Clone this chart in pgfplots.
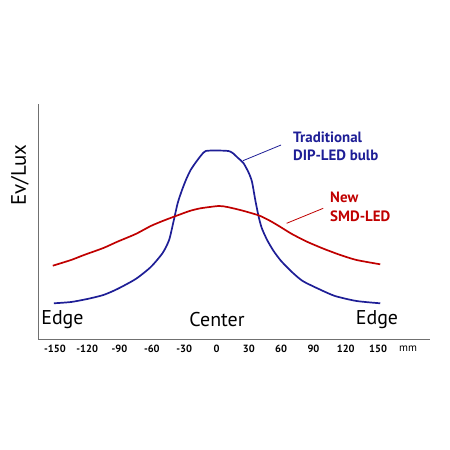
\documentclass[border=0pt]{standalone}
\usepackage{pgfplots}
\pgfplotsset{compat=1.18}
\usepackage{fontspec}
\setmainfont{PT Sans}
\definecolor{dipblue}{HTML}{1E1E96}
\definecolor{smdred}{HTML}{C00000}
\definecolor{axgray}{HTML}{707070}
\begin{document}
\begin{tikzpicture}
\useasboundingbox (0,0) rectangle (450bp,450bp);
\begin{axis}[
  at={(38bp,110bp)}, anchor=south west,
  scale only axis, width=392bp, height=236bp,
  xmin=-165.7, xmax=198.2, ymin=0, ymax=236,
  axis x line=bottom, axis y line=left,
  axis line style={-, axgray, line width=1bp},
  xtick={-150,-120,-90,-60,-30,0,30,60,90,120,150},
  xticklabels={-150,-120,-90,-60,-30,0,30,60,90,120,150},
  major tick length=0pt,
  ytick=\empty,
  xticklabel style={font=\fontsize{10.5}{11}\selectfont\bfseries, text=black, yshift=-1.5bp},
  /pgf/number format/assume math mode=true,
  clip=false,
]
\addplot[dipblue, line width=1.7bp, smooth, tension=0.4] coordinates {
(-151,36.7) (-135,38) (-120,41) (-105,45) (-92,51) (-75,61) (-61,73) (-50,87)
(-44,100) (-40,118) (-36,137) (-32,150) (-28,161) (-24,170) (-19,178) (-14,185)
(-10,189) (0,189.5) (11,189) (15,187) (20,182) (25,177) (30,167) (33,158)
(36,140) (39,124) (42,112) (47,100) (53,89) (60,79) (70,68) (80,59) (95,51)
(110,44) (130,39) (152,36.7)};
\addplot[smdred, line width=1.7bp, smooth, tension=0.4] coordinates {
(-152,74.3) (-135,80) (-123,85) (-105,92) (-92,98.3) (-75,106) (-61,114)
(-50,119) (-39.5,123.3) (-25,129) (-14.8,131.7) (2,134) (10,133) (22,130)
(32,127) (40.7,124) (50,119) (59,113.3) (70,106) (84,98.3) (100,91) (115,85)
(130,80) (152,75.7)};
\draw[dipblue, line width=0.8bp] (axis cs:24.6,179.3) -- (axis cs:59.9,195);
\draw[smdred, line width=0.8bp] (axis cs:65.1,116.7) -- (axis cs:99.1,131.7);
\node[anchor=west, align=left, text=dipblue, font=\fontsize{15}{18}\selectfont\bfseries, inner sep=0pt] at (axis cs:71,194) {Traditional\\DIP-LED bulb};
\node[anchor=west, align=left, text=smdred, font=\fontsize{15}{19}\selectfont\bfseries, inner sep=0pt] at (axis cs:105.4,133.5) {New\\SMD-LED};
\node[font=\fontsize{20}{22}\selectfont] at (axis cs:-143,20) {Edge};
\node[font=\fontsize{20}{22}\selectfont] at (axis cs:0.5,20) {Center};
\node[font=\fontsize{20}{22}\selectfont] at (axis cs:149,20) {Edge};
\node[font=\fontsize{21}{22}\selectfont, rotate=90] at (axis cs:-182.5,165) {Ev/Lux};
\node[font=\fontsize{11}{12}\selectfont] at (axis cs:177.8,-9) {mm};
\end{axis}
\end{tikzpicture}
\end{document}
